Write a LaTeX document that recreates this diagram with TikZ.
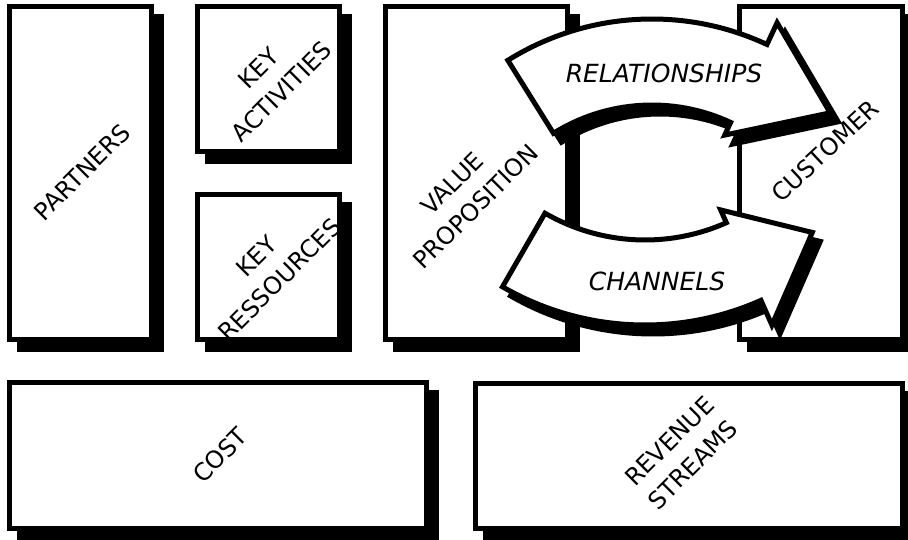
\documentclass[tikz,border=0pt]{standalone}
\usepackage{fontspec}
\setmainfont{DejaVu Sans}
\usetikzlibrary{shadows}
\begin{document}
\begin{tikzpicture}[x=1pt,y=1pt]
  \tikzset{canvas box/.style={draw=black, line width=5pt, fill=white, inner sep=0pt,
      drop shadow={shadow xshift=10pt, shadow yshift=-10pt, fill=black, draw=black, line width=5pt, opacity=1}},
    box label/.style={font=\fontsize{24}{33}\selectfont, align=center, rotate=45, inner sep=0pt},
    band arrow/.style={draw=black, line width=5pt, fill=white,
      drop shadow={shadow xshift=8pt, shadow yshift=-9pt, fill=black, draw=black, line width=5pt, opacity=1}},
    band label/.style={font=\fontsize{25}{30}\selectfont\itshape, inner sep=0pt}}
  \useasboundingbox (0,0) rectangle (908,539);
  % the nine blocks
  \node[canvas box, minimum width=142, minimum height=333] (partners) at (80.5,366) {};
  \node[canvas box, minimum width=142, minimum height=145] (activities) at (268.5,460) {};
  \node[canvas box, minimum width=142, minimum height=145] (resources) at (268.5,272) {};
  \node[canvas box, minimum width=182, minimum height=333] (value) at (476.5,366) {};
  \node[canvas box, minimum width=163, minimum height=333] (customer) at (821,366) {};
  \node[canvas box, minimum width=417, minimum height=146] (cost) at (218,83.5) {};
  \node[canvas box, minimum width=427, minimum height=145] (revenue) at (689,83) {};
  % curved arrows between value proposition and customer
  \draw[band arrow, shift={(652,248)}] (122:272) arc[start angle=122, end angle=65, radius=272]
    -- (65:296) -- (45:252) -- (65:172) -- (65:186) arc[start angle=65, end angle=122, radius=186] -- cycle;
  \draw[band arrow, shift={(645,499)}] (240:200) arc[start angle=240, end angle=294, radius=200]
    -- (294:186) -- (311:255) -- (294:312) -- (294:285) arc[start angle=294, end angle=240, radius=285] -- cycle;
  % labels
  \node[box label] (partners text) at (82,367) {PARTNERS};
  \node[box label] (activities text) at (270,459) {KEY\\ACTIVITIES};
  \node[box label] (resources text) at (268,271) {KEY\\RESSOURCES};
  \node[box label] (value text) at (464,344) {VALUE\\PROPOSITION};
  \node[box label, rotate=-2] (customer text) at (825,388) {CUSTOMER};
  \node[box label] (cost text) at (220,84) {COST};
  \node[box label] (revenue text) at (681,86) {REVENUE\\STREAMS};
  \node[band label] (relations text) at (664,466) {RELATIONSHIPS};
  \node[band label] (channels text) at (657,258) {CHANNELS};
\end{tikzpicture}
\end{document}
